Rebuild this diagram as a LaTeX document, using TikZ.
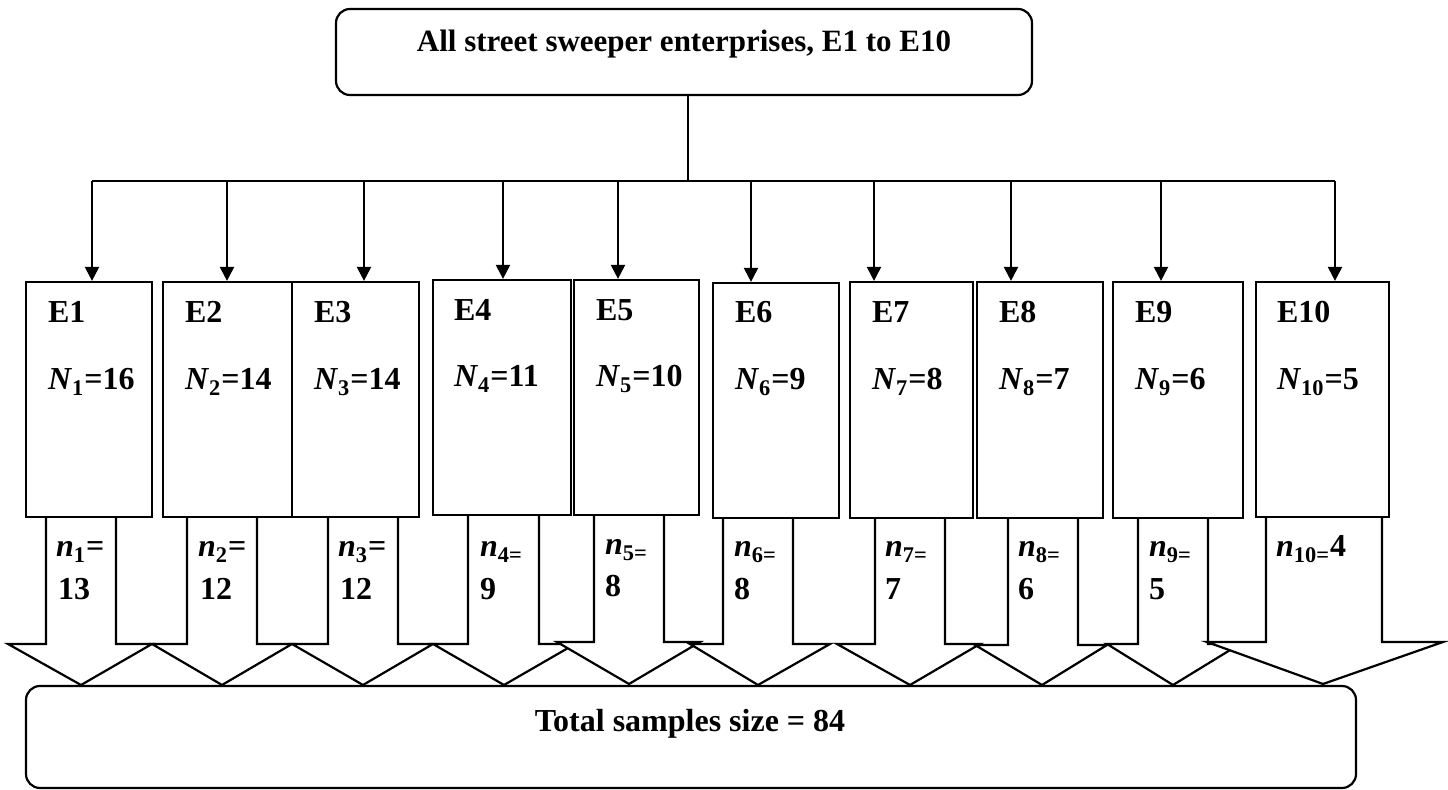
\documentclass[tikz,border=0pt]{standalone}
\usepackage{fontspec}
\setmainfont{Liberation Serif}
\usetikzlibrary{arrows.meta,fit}
\def \allEnterprisesStr {All street sweeper enterprises, E1 to E10}
\def \totalSamplesStr {Total samples size = 84}
\def \cornerRadius {7pt}

\begin{document}
\begin{tikzpicture}[x=0.5pt,y=-0.5pt]

\useasboundingbox (0,0) rectangle (1448,790);

\begin{scope}[line width=1.1pt,
  mytext/.style={font=\fontsize{16}{19}\selectfont\bfseries,inner sep=0pt,anchor=base west},
  entbox/.style={draw,fill=white,inner sep=0pt},
  roundbox/.style={draw,rounded corners=\cornerRadius,inner sep=0pt},
  bigarrow/.style={draw,fill=white,line join=miter},
  connector/.style={-{Triangle[length=7pt,width=7pt]}}]


\draw[bigarrow] (46,517) -- (46,644) -- (8,644) -- (81,685) -- (152,644) -- (116,644) -- (116,517);
\draw[bigarrow] (187,517) -- (187,644) -- (152,644) -- (222,685) -- (292,644) -- (257,644) -- (257,517);
\draw[bigarrow] (328,517) -- (328,644) -- (292,644) -- (363,685) -- (433,644) -- (398,644) -- (398,517);
\draw[bigarrow] (468,515) -- (468,644) -- (433,644) -- (504,685) -- (575,644) -- (539,644) -- (539,515);
\draw[bigarrow] (594,515) -- (594,642) -- (557,642) -- (629,684) -- (700,642) -- (664,642) -- (664,515);
\draw[bigarrow] (723,518) -- (723,644) -- (690,644) -- (758,685) -- (830,644) -- (793,644) -- (793,518);
\draw[bigarrow] (875,518) -- (875,644) -- (837,644) -- (910,685) -- (980,644) -- (945,644) -- (945,518);
\draw[bigarrow] (1008,518) -- (1008,645) -- (975,645) -- (1042,685) -- (1107,645) -- (1078,645) -- (1078,518);
\draw[bigarrow] (1138,518) -- (1138,644) -- (1107,644) -- (1173,685) -- (1240,644) -- (1208,644) -- (1208,518);
\draw[bigarrow] (1266,516) -- (1266,642) -- (1207,642) -- (1323,684) -- (1443,642) -- (1382,642) -- (1382,516);


\node[roundbox, fit={(336,9) (1032,95)}] (all) {};
\node[mytext, anchor=base, font=\fontsize{15.5}{19}\selectfont\bfseries] (allstr) at (684,52) {\allEnterprisesStr};

\node[roundbox, fit={(26,686) (1356,788)}] (total) {};
\node[mytext, anchor=base] (totalstr) at (690,732) {\totalSamplesStr};


\node[entbox, fit={(26,282) (152,517)}] (e1) {};
\node[entbox, fit={(163,282) (292,517)}] (e2) {};
\node[entbox, fit={(292,282) (419,517)}] (e3) {};
\node[entbox, fit={(433,280) (571,515)}] (e4) {};
\node[entbox, fit={(574,280) (699,515)}] (e5) {};
\node[entbox, fit={(713,283) (839,518)}] (e6) {};
\node[entbox, fit={(850,282) (973,518)}] (e7) {};
\node[entbox, fit={(977,282) (1103,518)}] (e8) {};
\node[entbox, fit={(1113,282) (1243,518)}] (e9) {};
\node[entbox, fit={(1256,282) (1389,517)}] (e10) {};


\coordinate (split) at (688,181);
\coordinate (b1) at (92,181);
\coordinate (b2) at (227,181);
\coordinate (b3) at (364,181);
\coordinate (b4) at (503,181);
\coordinate (b5) at (618,181);
\coordinate (b6) at (751,181);
\coordinate (b7) at (874,181);
\coordinate (b8) at (1011,181);
\coordinate (b9) at (1161,181);
\coordinate (b10) at (1335,181);

\draw (all.south -| split) -- (split);
\draw (b1) -- (b10);
\draw[connector] (b1) -- (b1 |- e1.north);
\draw[connector] (b2) -- (b2 |- e2.north);
\draw[connector] (b3) -- (b3 |- e3.north);
\draw[connector] (b4) -- (b4 |- e4.north);
\draw[connector] (b5) -- (b5 |- e5.north);
\draw[connector] (b6) -- (b6 |- e6.north);
\draw[connector] (b7) -- (b7 |- e7.north);
\draw[connector] (b8) -- (b8 |- e8.north);
\draw[connector] (b9) -- (b9 |- e9.north);
\draw[connector] (b10) -- (b10 |- e10.north);


\node[mytext] (e1id) at (47,323) {E1};
\node[mytext] (e1N) at (47,390) {\textit{N}\textsubscript{1}=16};
\node[mytext] (e2id) at (184,323) {E2};
\node[mytext] (e2N) at (184,390) {\textit{N}\textsubscript{2}=14};
\node[mytext] (e3id) at (313,323) {E3};
\node[mytext] (e3N) at (313,390) {\textit{N}\textsubscript{3}=14};
\node[mytext] (e4id) at (453,321) {E4};
\node[mytext] (e4N) at (453,387) {\textit{N}\textsubscript{4}=11};
\node[mytext] (e5id) at (595,321) {E5};
\node[mytext] (e5N) at (595,387) {\textit{N}\textsubscript{5}=10};
\node[mytext] (e6id) at (734,323) {E6};
\node[mytext] (e6N) at (734,390) {\textit{N}\textsubscript{6}=9};
\node[mytext] (e7id) at (871,323) {E7};
\node[mytext] (e7N) at (871,390) {\textit{N}\textsubscript{7}=8};
\node[mytext] (e8id) at (998,323) {E8};
\node[mytext] (e8N) at (998,390) {\textit{N}\textsubscript{8}=7};
\node[mytext] (e9id) at (1134,323) {E9};
\node[mytext] (e9N) at (1134,390) {\textit{N}\textsubscript{9}=6};
\node[mytext] (e10id) at (1276,323) {E10};
\node[mytext] (e10N) at (1276,390) {\textit{N}\textsubscript{10}=5};


\node[mytext] (n1a) at (55,557) {\textit{n}\textsubscript{1}=};
\node[mytext] (n1b) at (57,600) {13};
\node[mytext] (n2a) at (197,557) {\textit{n}\textsubscript{2}=};
\node[mytext] (n2b) at (199,600) {12};
\node[mytext] (n3a) at (337,557) {\textit{n}\textsubscript{3}=};
\node[mytext] (n3b) at (339,600) {12};
\node[mytext] (n4a) at (479,557) {\textit{n}\textsubscript{4=}};
\node[mytext] (n4b) at (479,600) {9};
\node[mytext] (n5a) at (604,555) {\textit{n}\textsubscript{5=}};
\node[mytext] (n5b) at (604,597) {8};
\node[mytext] (n6a) at (733,557) {\textit{n}\textsubscript{6=}};
\node[mytext] (n6b) at (733,600) {8};
\node[mytext] (n7a) at (884,557) {\textit{n}\textsubscript{7=}};
\node[mytext] (n7b) at (884,600) {7};
\node[mytext] (n8a) at (1017,557) {\textit{n}\textsubscript{8=}};
\node[mytext] (n8b) at (1017,600) {6};
\node[mytext] (n9a) at (1148,557) {\textit{n}\textsubscript{9=}};
\node[mytext] (n9b) at (1148,600) {5};
\node[mytext] (n10a) at (1275,557) {\textit{n}\textsubscript{10=}4};


\end{scope}
\end{tikzpicture}
\end{document}
